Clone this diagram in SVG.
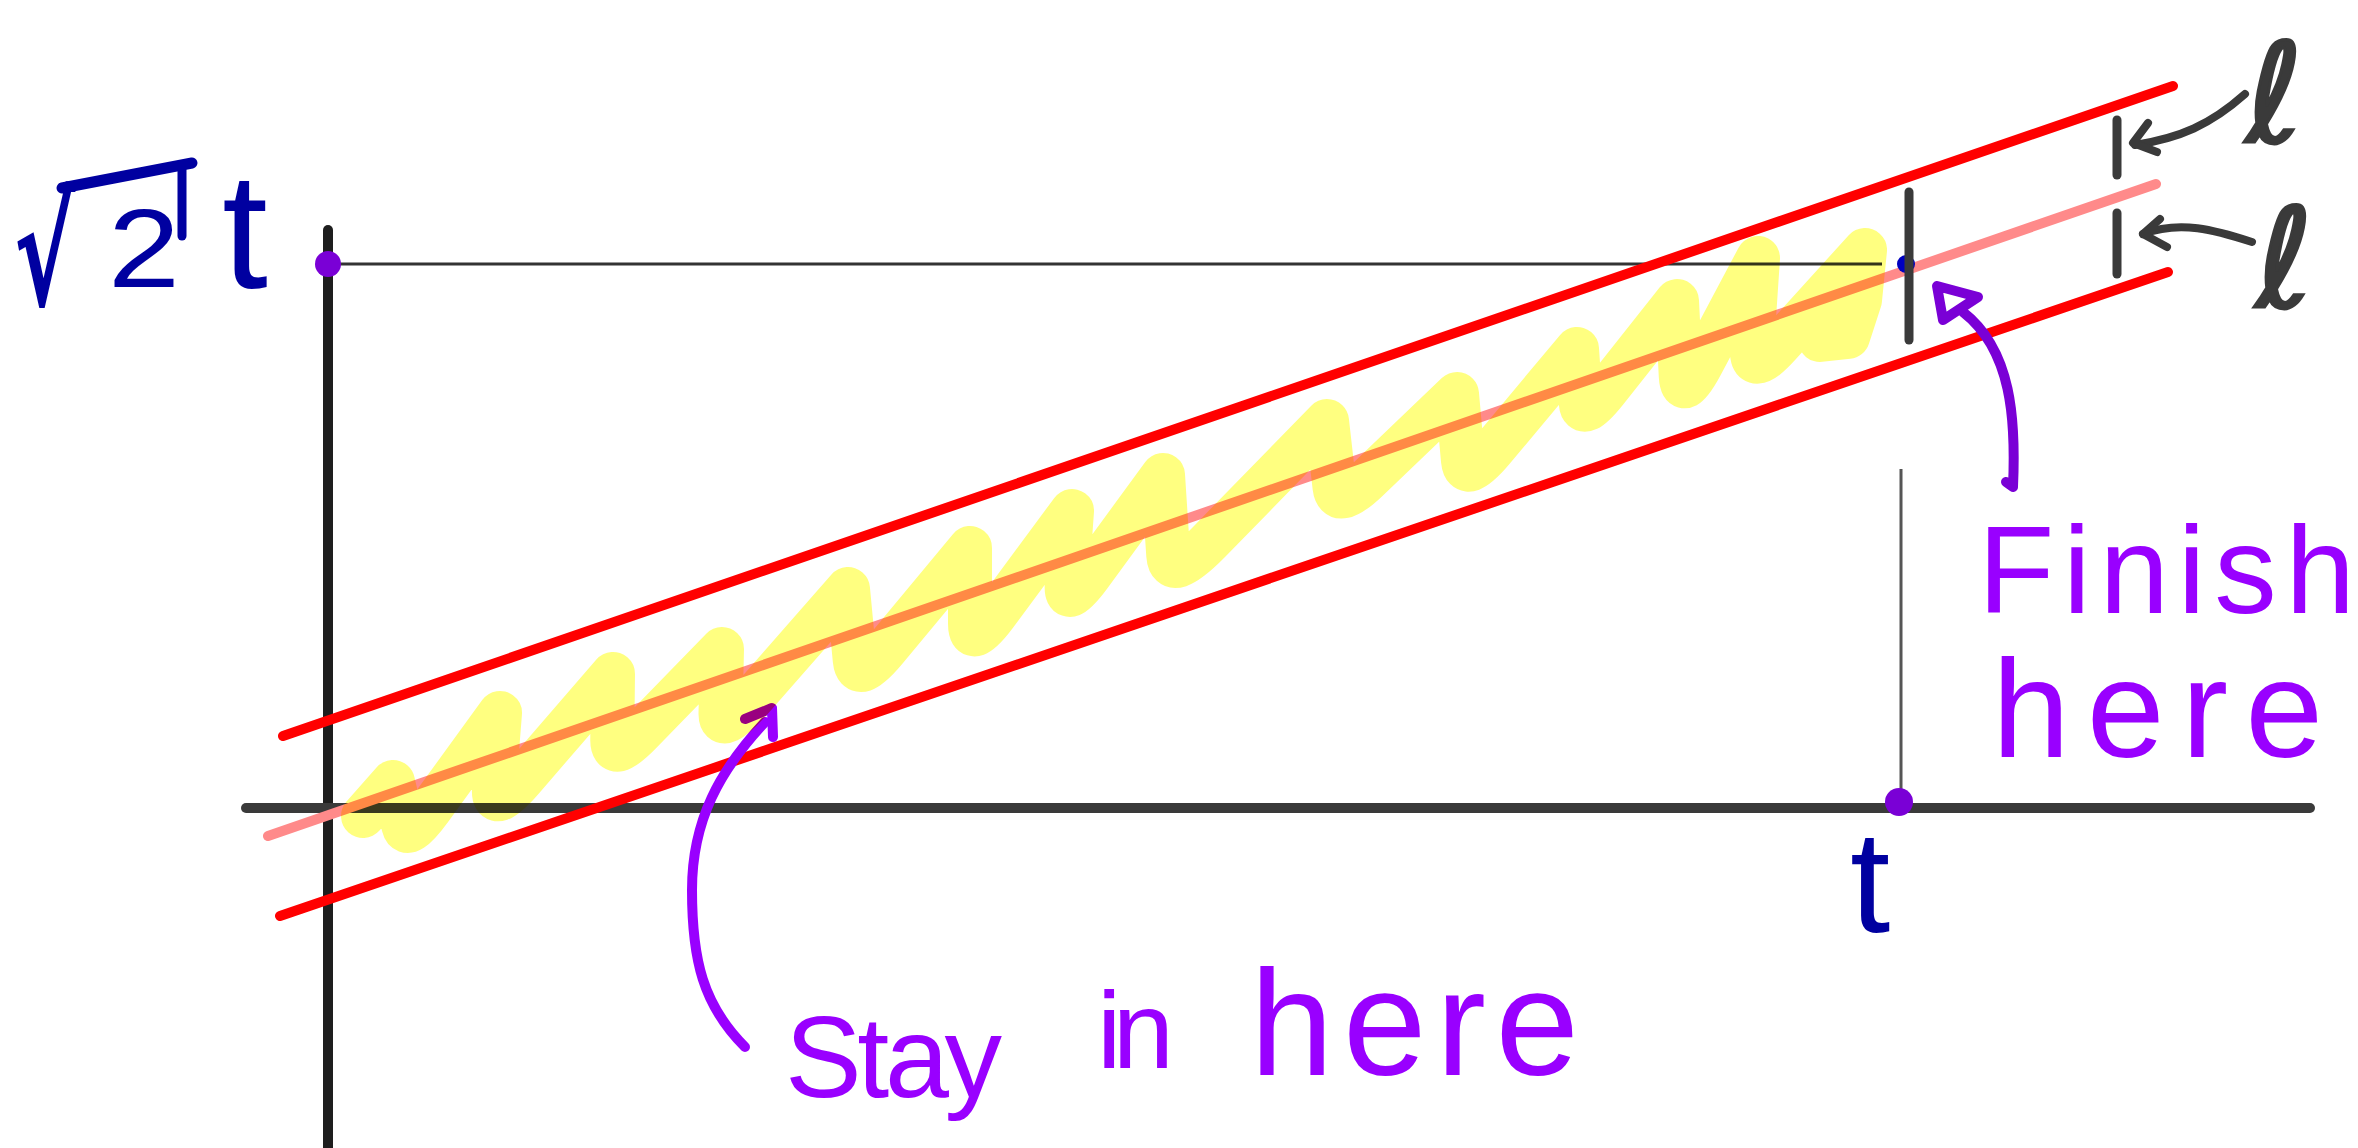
<svg xmlns="http://www.w3.org/2000/svg" width="2358" height="1148" viewBox="0 0 2358 1148">
<style>
.axis{stroke:#3a3a3a;stroke-width:10;stroke-linecap:round;fill:none}
.thin{stroke:#333;stroke-width:3;fill:none}
.red{stroke:#ff0000;stroke-width:10;stroke-linecap:round;fill:none}
.pink{stroke:#ff8a8a;stroke-width:10;stroke-linecap:round;fill:none}
.tick{stroke:#3a3a3a;stroke-width:9;stroke-linecap:round;fill:none}
.grey{stroke:#3a3a3a;stroke-width:8;stroke-linecap:round;stroke-linejoin:round;fill:none}
.pa{stroke:#9900ff;stroke-width:10;stroke-linecap:round;stroke-linejoin:round;fill:none}
.pb{stroke:#7a00d6;stroke-width:10;stroke-linecap:round;stroke-linejoin:round;fill:none}
.hl{stroke:#ffff80;stroke-width:44;stroke-linecap:round;stroke-linejoin:round;fill:none;mix-blend-mode:multiply}
.blue{fill:#0000a0;font-family:"Liberation Sans",Arial,sans-serif}
.purple{fill:#9900ff;font-family:"Liberation Sans",Arial,sans-serif}
.ell{fill:#3a3a3a;stroke:#3a3a3a;stroke-width:3;font-family:"DejaVu Sans",sans-serif}
</style>
<rect width="2358" height="1148" fill="#ffffff"/>
<g id="axes">
<line x1="328" y1="230" x2="328" y2="1160" class="axis" style="stroke:#1e1e1e"/>
<line x1="246" y1="808" x2="2310" y2="808" class="axis"/>
<line x1="328" y1="264" x2="1882" y2="264" class="thin"/>
<line x1="1901" y1="469" x2="1901" y2="802" class="thin" style="stroke:#555"/>
</g>
<g id="band">
<line x1="283" y1="736" x2="2173" y2="86" class="red"/>
<line x1="280" y1="916" x2="2168" y2="272" class="red"/>
<line x1="268" y1="836" x2="2156" y2="184" class="pink"/>
</g>
<g id="markers">
<circle cx="1906" cy="264" r="9" fill="#0000c0"/>
<line x1="1909" y1="192" x2="1909" y2="340" class="tick"/>
<line x1="2117" y1="120" x2="2117" y2="175" class="tick"/>
<line x1="2117" y1="213" x2="2117" y2="274" class="tick"/>
<circle cx="328" cy="264" r="13" fill="#7a00d6"/>
<circle cx="1899" cy="802" r="14" fill="#7a00d6"/>
</g>
<g id="connectors">
<path d="M2245,94 C2210,125 2180,138 2135,145" class="grey"/>
<path d="M2148,123 L2133,143 L2157,152" class="grey"/>
<path d="M2252,242 C2215,230 2180,220 2143,234" class="grey"/>
<path d="M2160,219 L2143,234 L2167,247" class="grey"/>
<path d="M2006,482 L2013,487 C2016,420 2012,350 1963,312" class="pb"/>
<path d="M1937,286 L1978,297 L1943,320 Z" class="pb"/>
<path d="M745,1047 C703,1005 692,960 692,890 C692,820 720,770 765,722" class="pa"/>
<path d="M745,719 L772,708 L773,737" class="pa"/>
</g>
<g id="squiggle">
<path class="hl" d="M363,816 L393,782 L403.5,826.25 Q407,841 430.25,809 L500,713 L494,788.75 Q492,814 522.25,779 L613,674 L612.25,740 Q612,762 639.5,733.75 L722,649 L720.5,713.5 Q720,735 752,698.5 L848,589 L854.75,660.25 Q857,684 885.25,650 L970,548 L970,623.75 Q970,649 995.5,614.5 L1072,511 L1066.75,584.5 Q1065,609 1089.5,575.5 L1163,475 L1168.25,555.25 Q1170,582 1209.25,541.75 L1327,421 L1334.5,487 Q1337,509 1367,480.25 L1457,394 L1463,460.75 Q1465,483 1493,449.5 L1577,349 L1580.75,403 Q1582,421 1605.75,391 L1677,301 L1680.75,376 Q1682,401 1701,365.25 L1758,258 L1752,347.25 Q1750,377 1778.75,345.25 L1865,250 L1860,300 L1848,337 L1820,340 L1828,300"/>
</g>
<g id="labels">
<text transform="translate(14,305) scale(0.62,1)" class="blue" style="font-family:'DejaVu Sans',sans-serif;font-weight:bold" font-size="148">√</text>
<line x1="62" y1="188" x2="192" y2="163" stroke="#0000a0" stroke-width="11" stroke-linecap="round"/>
<line x1="182" y1="170" x2="182" y2="236" stroke="#0000a0" stroke-width="9" stroke-linecap="round"/>
<text x="108" y="287" class="blue" font-size="112" textLength="72" lengthAdjust="spacingAndGlyphs">2</text>
<text x="222" y="288" class="blue" font-size="165">t</text>
<text x="1850" y="932" class="blue" font-size="145">t</text>
<text x="1978" y="613" class="purple" font-size="125" textLength="377" lengthAdjust="spacing">Finish</text>
<text x="1992" y="757" class="purple" font-size="140" textLength="331" lengthAdjust="spacing">here</text>
<text x="785" y="1097" class="purple" font-size="115" textLength="217" lengthAdjust="spacing">Stay</text>
<text x="1097" y="1068" class="purple" font-size="110" textLength="77" lengthAdjust="spacing">in</text>
<text x="1250" y="1075" class="purple" font-size="150" textLength="329" lengthAdjust="spacing">here</text>
<text x="2246" y="142" class="ell" font-size="138">ℓ</text>
<text x="2256" y="307" class="ell" font-size="138">ℓ</text>
</g>
</svg>
